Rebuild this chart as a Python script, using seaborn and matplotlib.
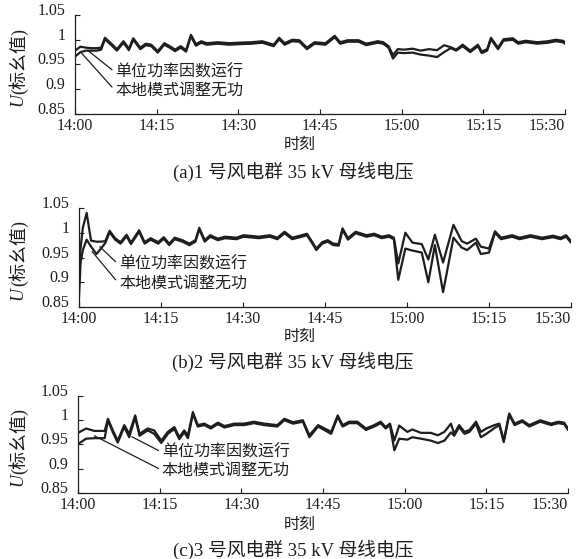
# 风电群母线电压对比图（三个子图）
import matplotlib
matplotlib.use('Agg')
import matplotlib.pyplot as plt
import seaborn as sns

# 横轴：从14:00起的分钟数；纵轴：电压标幺值
# bd = 本地模式调整无功, dw = 单位功率因数运行
t_a = [0, 1, 2, 3, 4, 4.8, 5.5, 6.5, 7.7, 8.9, 9.9, 10.7, 12, 13, 14, 15.2, 16.4, 17.4, 18.4, 19.4,
       20.4, 21.3, 22.2, 23.2, 24.2, 26.2, 28.3, 30, 32.4, 34.4, 36.5, 37.5, 38.5, 39.9, 41.2, 42.6,
       44, 46, 47.7, 48.7, 50.1, 52.1, 53.5, 55.6, 56.6, 57.6, 58.4, 59.3, 60.5, 62, 63.5, 65, 66.5,
       67.8, 69, 70, 71.2, 72.6, 74, 74.7, 75.7, 76.4, 77.7, 78.7, 80.4, 81.4, 82.8, 84.9, 86.9, 88.3,
       89.6, 90]
bd_a = [0.978, 0.986, 0.984, 0.983, 0.983, 0.984, 1.004, 0.994, 0.981, 0.997, 0.982, 1.003, 0.984,
        0.992, 0.990, 0.977, 0.993, 0.987, 0.980, 0.987, 0.979, 1.010, 0.991, 0.997, 0.993, 0.995,
        0.993, 0.994, 0.995, 0.997, 0.990, 1.004, 0.993, 1.000, 0.999, 0.984, 0.995, 0.993, 1.008,
        0.995, 0.999, 0.999, 0.992, 0.997, 0.995, 0.987, 0.969, 0.981, 0.980, 0.982, 0.978, 0.981,
        0.979, 0.989, 0.985, 0.980, 0.990, 0.978, 0.990, 0.976, 0.981, 1.004, 0.984, 1.001, 1.003,
        0.995, 0.998, 0.995, 0.997, 1.000, 0.998, 0.995]
dw_a = [0.966, 0.975, 0.978, 0.978, 0.978, 0.980, 1.001, 0.991, 0.978, 0.994, 0.979, 1.000, 0.981,
        0.989, 0.987, 0.974, 0.990, 0.984, 0.977, 0.984, 0.976, 1.007, 0.988, 0.994, 0.990, 0.992,
        0.990, 0.991, 0.992, 0.994, 0.987, 1.001, 0.990, 0.997, 0.996, 0.981, 0.992, 0.990, 1.005,
        0.992, 0.996, 0.996, 0.989, 0.994, 0.992, 0.984, 0.962, 0.974, 0.973, 0.974, 0.970, 0.968,
        0.965, 0.975, 0.983, 0.978, 0.987, 0.975, 0.987, 0.973, 0.978, 1.001, 0.981, 0.998, 1.000,
        0.992, 0.995, 0.992, 0.994, 0.997, 0.995, 0.992]

t_b = [0, 0.3, 0.7, 1.4, 2.2, 3.2, 4, 4.8, 5.6, 6.6, 7.6, 8.7, 9.5, 11, 12, 13.1, 14.5, 15.5, 16.5,
       17.5, 18.9, 20.2, 21.3, 22, 23, 24, 25.4, 26.7, 28.8, 30.1, 32.9, 34.9, 36.3, 37.6, 39, 40.4,
       41.7, 42.7, 43.4, 44.5, 45.5, 46.5, 47.5, 48.2, 49.2, 50.6, 52.6, 54, 55.4, 56.7, 57.6, 58.4,
       59.7, 61, 62.7, 63.9, 65.1, 66.6, 68.5, 70, 71, 72.6, 73.5, 75, 76.1, 77.2, 79.2, 80.6, 82.6,
       84.7, 86.7, 88.1, 89.1, 90]
bd_b = [0.93, 0.97, 1.01, 1.04, 0.984, 0.982, 0.982, 0.983, 1.004, 0.989, 0.981, 0.996, 0.98, 1.005,
        0.981, 0.989, 0.981, 0.991, 0.978, 0.99, 0.985, 0.978, 0.985, 1.01, 0.985, 0.995, 0.988, 0.992,
        0.99, 0.995, 0.992, 0.995, 0.99, 1.002, 0.99, 0.994, 0.998, 0.981, 0.968, 0.981, 0.985, 0.978,
        0.977, 1.009, 0.989, 1.002, 0.995, 0.998, 0.992, 0.995, 0.99, 0.938, 1.0, 0.98, 0.977, 0.946,
        0.996, 0.94, 1.016, 0.983, 0.978, 0.988, 0.972, 0.968, 1.003, 0.99, 0.995, 0.99, 0.995, 0.99,
        0.994, 0.99, 0.995, 0.983]
dw_b = [0.87, 0.94, 0.965, 0.986, 0.972, 0.957, 0.968, 0.979, 1.001, 0.986, 0.978, 0.993, 0.977,
        1.002, 0.978, 0.986, 0.978, 0.988, 0.975, 0.987, 0.982, 0.975, 0.982, 1.007, 0.982, 0.992,
        0.985, 0.989, 0.987, 0.992, 0.989, 0.992, 0.987, 0.999, 0.987, 0.991, 0.995, 0.978, 0.965,
        0.978, 0.982, 0.975, 0.974, 1.006, 0.986, 0.999, 0.992, 0.995, 0.989, 0.992, 0.987, 0.905,
        0.968, 0.964, 0.96, 0.9, 0.975, 0.88, 0.99, 0.97, 0.965, 0.98, 0.957, 0.96, 1.0, 0.987, 0.992,
        0.987, 0.992, 0.987, 0.991, 0.987, 0.992, 0.98]

t_c = [0, 1.5, 3, 4.9, 5.5, 6.4, 7.3, 8.5, 9.4, 10.5, 11.3, 12.8, 14, 15.3, 16.5, 17.7, 18.6, 19.5,
       20.2, 21.1, 22, 23.2, 24.4, 25.7, 26.9, 28.7, 30.5, 32.3, 34.2, 36.6, 37.9, 39.5, 41.3, 42.5,
       44.1, 46.5, 47.7, 48.6, 49.8, 51.3, 52.9, 54.4, 55.6, 56.5, 57.3, 58.1, 59, 60.5, 61.4, 63,
       64.8, 66.1, 67.3, 68.5, 69.1, 70, 71, 71.9, 73.1, 74, 75, 76.5, 77.4, 78.2, 79.2, 80.2, 81.6,
       82.9, 84.9, 86.9, 88.2, 89.3, 90]
bd_c = [0.974, 0.983, 0.978, 0.978, 1.003, 0.979, 0.958, 0.99, 0.972, 1.01, 0.972, 0.983, 0.979,
        0.958, 0.976, 0.986, 0.965, 0.979, 0.969, 1.017, 0.99, 0.993, 0.986, 0.995, 0.988, 0.993,
        0.993, 0.997, 0.993, 0.99, 1.003, 0.996, 1.0, 0.969, 0.99, 0.976, 1.01, 0.99, 0.997, 0.997,
        0.983, 0.99, 0.997, 0.986, 0.993, 0.958, 0.989, 0.976, 0.981, 0.974, 0.974, 0.969, 0.976,
        0.993, 0.972, 0.99, 0.976, 0.98, 0.997, 0.976, 0.983, 0.99, 0.993, 0.958, 1.014, 0.993, 1.0,
        0.99, 1.0, 0.993, 0.997, 0.995, 0.983]
dw_c = [0.951, 0.962, 0.963, 0.963, 1.0, 0.975, 0.954, 0.986, 0.965, 1.006, 0.968, 0.979, 0.972,
        0.953, 0.972, 0.982, 0.961, 0.975, 0.963, 1.013, 0.987, 0.99, 0.983, 0.992, 0.985, 0.99,
        0.99, 0.994, 0.99, 0.987, 1.0, 0.993, 0.997, 0.965, 0.987, 0.972, 1.007, 0.987, 0.994, 0.994,
        0.98, 0.987, 0.994, 0.983, 0.99, 0.938, 0.962, 0.96, 0.965, 0.962, 0.958, 0.953, 0.958,
        0.975, 0.968, 0.986, 0.972, 0.976, 0.993, 0.965, 0.972, 0.984, 0.99, 0.955, 1.011, 0.99,
        0.997, 0.987, 0.997, 0.99, 0.994, 0.992, 0.98]

xtick_pos = [0, 15, 30, 45, 60, 75, 90]
xtick_lab = ['14:00', '14:15', '14:30', '14:45', '15:00', '15:15', '15:30']
ytick_pos = [0.85, 0.9, 0.95, 1.0, 1.05]
ytick_lab = ['0.85', '0.9', '0.95', '1', '1.05']
names = ['单位功率因数运行', '本地模式调整无功']
captions = ['(a)1 号风电群 35 kV 母线电压', '(b)2 号风电群 35 kV 母线电压', '(c)3 号风电群 35 kV 母线电压']

sns.set_style('ticks')
plt.rcParams['font.family'] = ['Liberation Serif', 'Noto Sans CJK SC']
plt.rcParams['axes.unicode_minus'] = False

W, H = 576, 559
ink = '#1e1e1e'
fig = plt.figure(figsize=(W / 100, H / 100), dpi=100)

# 子图像素位置：左, 右, 上, 下
boxes = [(75, 565, 15, 114), (79, 571, 208, 307), (78, 568, 396, 493)]
# 文字说明位置（数据坐标）：文字起点, 连线终点
notes = [[(7.4, 0.934), (2.4, 0.978), (7.4, 0.897), (1.2, 0.973)],
         [(7.3, 0.935), (3.8, 0.972), (7.3, 0.897), (2.4, 0.962)],
         [(15.4, 0.934), (9.9, 0.966), (15.4, 0.897), (3.0, 0.968)]]
label_y = [145, 337, 525]
cap_y = [172, 362, 550]

series = [(t_a, bd_a, dw_a), (t_b, bd_b, dw_b), (t_c, bd_c, dw_c)]

for i, (t, bd, dw) in enumerate(series):
    l, r, top, bot = boxes[i]
    ax = fig.add_axes([l / W, 1 - bot / H, (r - l) / W, (bot - top) / H])
    sns.lineplot(x=t, y=bd, ax=ax, color=ink, linewidth=1.6, estimator=None, sort=False)
    sns.lineplot(x=t, y=dw, ax=ax, color=ink, linewidth=1.6, estimator=None, sort=False)
    ax.set_xlim(0, 90)
    ax.set_ylim(0.85, 1.05)
    ax.set_xticks(xtick_pos, xtick_lab)
    ax.set_yticks(ytick_pos, ytick_lab)
    ax.set_xlabel('')
    ax.set_ylabel('')
    sns.despine(ax=ax)
    for s in ['left', 'bottom']:
        ax.spines[s].set_linewidth(0.9)
        ax.spines[s].set_color(ink)
    ax.tick_params(direction='in', length=3.5, width=0.8, labelsize=11.5, colors=ink)
    ax.tick_params(axis='x', pad=3)
    ax.tick_params(axis='y', pad=7)
    ax.get_xticklabels()[-1].set_ha('right')
    for lab in ax.get_yticklabels():
        lab.set_va('baseline')

    # 曲线说明
    n = notes[i]
    for k in range(2):
        ax.annotate(names[k], xy=n[2 * k + 1], xytext=n[2 * k], ha='left', va='center',
                    fontsize=11.5, color=ink,
                    arrowprops=dict(arrowstyle='-', color=ink, lw=0.9, shrinkA=0, shrinkB=0,
                                    relpos=(0, 0.5)))

    # 纵轴标题 U(标幺值)
    fs = 13
    yc = (top + bot) / 2
    ybot = yc + 42
    xl = 18 / W
    fig.text(xl, 1 - ybot / H, 'U', rotation=90, va='bottom', ha='center', fontsize=fs,
             style='italic', color=ink)
    fig.text(xl, 1 - (ybot - 13) / H, '(标幺值)', rotation=90, va='bottom', ha='center',
             fontsize=fs, color=ink)

    fig.text(300 / W, 1 - label_y[i] / H, '时刻', ha='center', va='center', fontsize=11.5, color=ink)
    fig.text(293 / W, 1 - cap_y[i] / H, captions[i], ha='center', va='center', fontsize=13.5, color=ink)

fig.savefig('out.png', dpi=100)
